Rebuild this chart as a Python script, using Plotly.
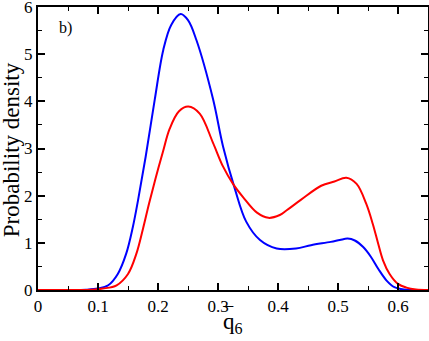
import plotly.graph_objects as go

# Data
blue_x = [0.0, 0.05, 0.08, 0.1, 0.117, 0.133, 0.147, 0.158, 0.1667, 0.1795, 0.1945,
          0.2088, 0.222, 0.2378, 0.25, 0.264, 0.2917, 0.3083, 0.328, 0.347, 0.37,
          0.3978, 0.43, 0.455, 0.488, 0.503, 0.516, 0.528, 0.542, 0.555, 0.567, 0.581,
          0.594, 0.61, 0.65]
blue_y = [0.0, 0.0, 0.005, 0.03, 0.10, 0.34, 0.77, 1.33, 1.90, 2.83, 4.03,
          5.09, 5.62, 5.85, 5.72, 5.30, 4.05, 3.05, 2.15, 1.45, 1.06,
          0.88, 0.88, 0.95, 1.02, 1.06, 1.09, 1.05, 0.91, 0.70, 0.45, 0.20,
          0.06, 0.01, 0.0]

red_x = [0.0, 0.05, 0.09, 0.108, 0.131, 0.15, 0.164, 0.175, 0.185, 0.196, 0.208,
         0.2195, 0.235, 0.2505, 0.2695, 0.2917, 0.3083, 0.325, 0.3417, 0.365,
         0.384, 0.403, 0.4145, 0.438, 0.472, 0.494, 0.514, 0.531, 0.547, 0.558,
         0.567, 0.575, 0.586, 0.600, 0.614, 0.63, 0.65]
red_y = [0.0, 0.0, 0.005, 0.03, 0.10, 0.34, 0.77, 1.30, 1.83, 2.37, 2.92,
         3.42, 3.79, 3.89, 3.74, 3.12, 2.62, 2.25, 1.97, 1.64,
         1.53, 1.59, 1.69, 1.91, 2.21, 2.30, 2.38, 2.25, 1.83, 1.40,
         0.98, 0.63, 0.34, 0.13, 0.05, 0.01, 0.0]

x_ticks = [0, 0.1, 0.2, 0.3, 0.4, 0.5, 0.6]
x_tick_labels = ["0", "0.1", "0.2", "0.3", "0.4", "0.5", "0.6"]
y_ticks = [0, 1, 2, 3, 4, 5, 6]
y_tick_labels = ["0", "1", "2", "3", "4", "5", "6"]

FONT = "Liberation Serif"

fig = go.Figure()
fig.add_trace(go.Scatter(x=blue_x, y=blue_y, mode="lines",
                         line=dict(color="#0000ff", width=2, shape="spline", smoothing=1)))
fig.add_trace(go.Scatter(x=red_x, y=red_y, mode="lines",
                         line=dict(color="#ff0000", width=2, shape="spline", smoothing=1)))

axis_common = dict(
    showgrid=False, zeroline=False, showline=True, linecolor="black", linewidth=2,
    mirror="ticks", ticks="inside", ticklen=7, tickwidth=1.5, tickcolor="black",
    tickfont=dict(family=FONT, size=17, color="black"), automargin=False,
    ticklabeloverflow="allow",
)

fig.update_xaxes(range=[0, 0.65], tickvals=x_ticks, ticktext=x_tick_labels,
                 minor=dict(dtick=0.05, tick0=0, ticks="inside", ticklen=4, tickwidth=1.2, tickcolor="black"),
                 **axis_common)
fig.update_yaxes(range=[0, 6], tickvals=y_ticks, ticktext=y_tick_labels,
                 minor=dict(dtick=0.5, tick0=0, ticks="inside", ticklen=4, tickwidth=1.2, tickcolor="black"),
                 **axis_common)

# Axis titles as annotations
fig.add_annotation(text="Probability density", xref="paper", yref="paper",
                   x=-0.066, y=0.495, textangle=-90, xanchor="center", yanchor="middle",
                   showarrow=False, font=dict(family=FONT, size=23, color="black"))
fig.add_annotation(text="q<sub>6</sub>", xref="paper", yref="paper",
                   x=0.469, y=-0.06, xanchor="left", yanchor="top",
                   showarrow=False, font=dict(family=FONT, size=23, color="black"))
fig.add_annotation(text="\u203e", xref="paper", yref="paper",
                   x=0.4897, y=-0.045, xanchor="center", yanchor="top",
                   showarrow=False, font=dict(family=FONT, size=23, color="black"))

fig.add_annotation(text="b)", xref="paper", yref="paper", x=0.048, y=0.926,
                   xanchor="left", yanchor="middle", showarrow=False,
                   font=dict(family=FONT, size=16, color="black"))

fig.update_layout(
    width=429, height=341,
    margin=dict(l=38, r=1, t=7, b=51),
    paper_bgcolor="white", plot_bgcolor="white",
    showlegend=False,
)

fig.write_html("out.html", config={"displayModeBar": False},
               post_script="document.body.style.margin='0';document.body.style.overflow='hidden';")
